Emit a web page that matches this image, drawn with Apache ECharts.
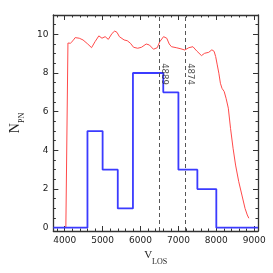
<!DOCTYPE html>
<html>
<head>
<meta charset="utf-8">
<script src="https://cdn.jsdelivr.net/npm/echarts@6/dist/echarts.min.js"></script>
<style>html,body{margin:0;padding:0;background:#fff}#c{width:273px;height:273px}</style>
</head>
<body>
<div id="c"></div>
<script>
// ---- data ----
var binEdges = [3700, 4600, 5000, 5400, 5800, 6600, 7000, 7500, 8000, 9100];
var binCounts = [0, 5, 3, 1, 8, 7, 3, 2, 0];
var redCurve = [
  [4030,0],[4085,9.55],[4150,9.54],[4217,9.67],[4275,9.83],[4383,9.8],[4483,9.71],[4608,9.5],
  [4708,9.31],[4800,9.62],[4900,9.92],[4983,9.8],[5067,9.88],[5150,9.74],[5250,10.05],[5320,10.17],
  [5380,10.1],[5442,9.88],[5567,9.71],[5650,9.67],[5733,9.54],[5817,9.33],[5925,9.28],[6025,9.33],
  [6150,9.5],[6233,9.45],[6342,9.23],[6442,9.31],[6508,9.62],[6608,9.88],[6692,9.8],[6758,9.5],
  [6817,9.36],[6942,9.31],[7067,9.25],[7167,9.19],[7275,9.31],[7383,9.36],[7483,9.14],[7608,8.9],
  [7692,9.02],[7800,9.07],[7883,9.2],[7942,9.12],[7983,8.85],[8025,8.42],[8067,7.99],[8108,7.47],
  [8150,7.21],[8208,7.04],[8258,6.69],[8317,6.18],[8375,5.14],[8442,4.11],[8508,3.24],[8592,2.38],
  [8675,1.69],[8758,1.0],[8817,0.66],[8858,0.49]
];
var markerValues = [6483, 7192];
var markerLabels = ['4889', '4874'];
var markerLabelY = 7.95;
var xMajorTicks = [4000, 5000, 6000, 7000, 8000, 9000];
var xMinorTicks = [3800,4000,4200,4400,4600,4800,5000,5200,5400,5600,5800,6000,6200,6400,6600,6800,7000,7200,7400,7600,7800,8000,8200,8400,8600,8800,9000];
var yMajorTicks = [0, 2, 4, 6, 8, 10];
var yMinorTicks = [0,0.5,1,1.5,2,2.5,3,3.5,4,4.5,5,5.5,6,6.5,7,7.5,8,8.5,9,9.5,10,10.5];
var xRange = [3700, 9100];
var yRange = [-0.17, 11];

// ---- build ----
var stepData = [];
for (var i = 0; i < binCounts.length; i++) {
  stepData.push([binEdges[i], binCounts[i]]);
  stepData.push([binEdges[i+1], binCounts[i]]);
}
var axisCol = '#333';
var fontSans = 'DejaVu Sans';
function plain(v) { return String(v); }
function xAx(pos, ticks, len, line, labels, extra) {
  var a = {
    type: 'value', position: pos, min: xRange[0], max: xRange[1],
    axisLine: {show: line, onZero: false, lineStyle: {color: axisCol, width: 1.3}},
    axisTick: {show: true, inside: true, length: len, customValues: ticks, lineStyle: {color: axisCol, width: 1}},
    axisLabel: {show: labels, customValues: ticks, formatter: plain, fontFamily: fontSans, fontSize: 9, color: '#222', margin: 5},
    splitLine: {show: false}
  };
  if (extra) for (var k in extra) a[k] = extra[k];
  return a;
}
function yAx(pos, ticks, len, line, labels, extra) {
  var a = {
    type: 'value', position: pos, min: yRange[0], max: yRange[1],
    axisLine: {show: line, onZero: false, lineStyle: {color: axisCol, width: 1.3}},
    axisTick: {show: true, inside: true, length: len, customValues: ticks, lineStyle: {color: axisCol, width: 1}},
    axisLabel: {show: labels, customValues: ticks, formatter: plain, fontFamily: fontSans, fontSize: 9, color: '#222', margin: 5},
    splitLine: {show: false}
  };
  if (extra) for (var k in extra) a[k] = extra[k];
  return a;
}
var chart = echarts.init(document.getElementById('c'), null, {renderer: 'canvas'});
chart.setOption({
  backgroundColor: '#fff',
  animation: false,
  grid: {left: 42, right: 15, top: 15, bottom: 42, containLabel: false},
  xAxis: [
    xAx('bottom', xMajorTicks, 5, true, true, {
      name: '{v|V}{s|LOS}', nameLocation: 'middle', nameGap: 16,
      nameTextStyle: {rich: {
        v: {fontFamily: 'Liberation Serif', fontSize: 11, color: '#222', verticalAlign: 'top', lineHeight: 16},
        s: {fontFamily: 'Liberation Serif', fontSize: 8, color: '#222', verticalAlign: 'bottom', lineHeight: 16}
      }}
    }),
    xAx('bottom', xMinorTicks, 2.5, false, false),
    xAx('top', xMajorTicks, 5, true, false),
    xAx('top', xMinorTicks, 2.5, false, false)
  ],
  yAxis: [
    yAx('left', yMajorTicks, 5, true, true, {
      name: '{n|N}{s|PN}', nameLocation: 'middle', nameGap: 22,
      nameTextStyle: {rich: {
        n: {fontFamily: 'Liberation Serif', fontSize: 14, color: '#222', verticalAlign: 'top', lineHeight: 18},
        s: {fontFamily: 'Liberation Serif', fontSize: 8, color: '#222', verticalAlign: 'bottom', lineHeight: 18}
      }}
    }),
    yAx('left', yMinorTicks, 2.5, false, false),
    yAx('right', yMajorTicks, 5, true, false),
    yAx('right', yMinorTicks, 2.5, false, false)
  ],
  series: [
    {
      type: 'line', data: redCurve, showSymbol: false, symbol: 'none',
      lineStyle: {color: '#ff4a4a', width: 1}, z: 3, clip: true
    },
    {
      type: 'line', data: stepData, showSymbol: false, symbol: 'none',
      lineStyle: {color: '#3b3bff', width: 1.8}, z: 4, clip: true,
      markLine: {
        silent: true, symbol: ['none', 'none'],
        label: {show: false},
        lineStyle: {color: '#555', type: [4, 3], width: 1},
        data: markerValues.map(function (v) { return {xAxis: v}; })
      }
    },
    {
      type: 'scatter', symbolSize: 0, z: 5,
      data: markerValues.map(function (v, i) { return {value: [v, markerLabelY], name: markerLabels[i]}; }),
      label: {show: true, formatter: '{b}', rotate: -90, position: 'inside', offset: [0, -5],
        fontFamily: fontSans, fontSize: 8.5, color: '#222'}
    }
  ]
});
</script>
</body>
</html>
